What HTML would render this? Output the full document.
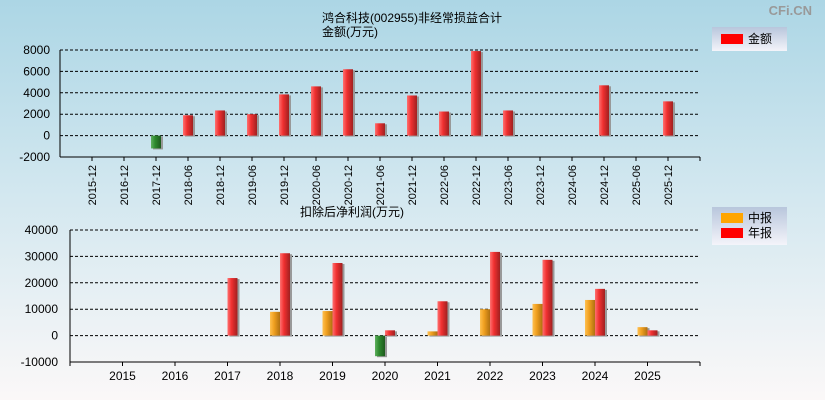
<!DOCTYPE html>
<html><head><meta charset="utf-8"><style>
html,body{margin:0;padding:0;background:#fff;}
body{width:825px;height:400px;overflow:hidden;font-family:"Liberation Sans","Noto Sans CJK SC",sans-serif;}
svg{display:block;}
svg text{font-family:"Liberation Sans","Noto Sans CJK SC",sans-serif;}
</style></head><body>
<svg id="c" width="825" height="400" xmlns="http://www.w3.org/2000/svg">
<defs>
<linearGradient id="bg" x1="0" y1="0" x2="0" y2="1"><stop offset="0" stop-color="#acd6e5"/><stop offset="0.5" stop-color="#d4e8f0"/><stop offset="1" stop-color="#fbf8f8"/></linearGradient>
<linearGradient id="gr" x1="0" x2="1"><stop offset="0" stop-color="#ff7070"/><stop offset="0.4" stop-color="#f03030"/><stop offset="1" stop-color="#a02020"/></linearGradient>
<linearGradient id="gg" x1="0" x2="1"><stop offset="0" stop-color="#5fb05f"/><stop offset="0.4" stop-color="#2e8a2e"/><stop offset="1" stop-color="#1d5a1d"/></linearGradient>
<linearGradient id="go" x1="0" x2="1"><stop offset="0" stop-color="#ffc050"/><stop offset="0.4" stop-color="#f0a020"/><stop offset="1" stop-color="#b07010"/></linearGradient>
<linearGradient id="lg" x1="0" y1="0" x2="0" y2="1"><stop offset="0" stop-color="#b8c6dc"/><stop offset="1" stop-color="#f4f4fa"/></linearGradient>
</defs>
<rect x="0" y="0" width="825" height="400" fill="url(#bg)"/>
<text x="812" y="15" font-size="13" fill="#999" text-anchor="end" font-weight="bold">CFi.CN</text>
<text x="412" y="22" font-size="12" text-anchor="middle">鸿合科技(002955)非经常损益合计</text>
<text x="350" y="36" font-size="12" text-anchor="middle">金额(万元)</text>
<g>
<rect x="712" y="27" width="75" height="24" fill="url(#lg)"/>
<rect x="721" y="34" width="22" height="10" fill="#f00"/>
<text x="748" y="43" font-size="12">金额</text></g>
<text x="352" y="216" font-size="12" text-anchor="middle">扣除后净利润(万元)</text>
<g>
<rect x="712" y="207" width="75" height="38" fill="url(#lg)"/>
<rect x="721" y="213" width="22" height="10" fill="#ffa500"/>
<text x="748" y="222" font-size="12">中报</text>
<rect x="721" y="228" width="22" height="10" fill="#f00"/>
<text x="748" y="237" font-size="12">年报</text></g>
<g id="g1"></g><g id="g2"></g>
</svg>
<script>
const cats1=["2015-12","2016-12","2017-12","2018-06","2018-12","2019-06","2019-12","2020-06","2020-12","2021-06","2021-12","2022-06","2022-12","2023-06","2023-12","2024-06","2024-12","2025-06","2025-12"];
const vals1=[null,null,-1200,1900,2350,2000,3850,4600,6200,1150,3750,2250,7900,2350,null,null,4700,null,3200];
const ticks1=[8000,6000,4000,2000,0,-2000];
const cats2=["2015","2016","2017","2018","2019","2020","2021","2022","2023","2024","2025"];
const mid2=[null,null,null,9000,9300,-7800,1600,10000,12000,13500,3200];
const ann2=[null,null,21800,31200,27500,2000,13000,31700,28700,17700,2000];
const ticks2=[40000,30000,20000,10000,0,-10000];
const NS="http://www.w3.org/2000/svg";
function mk(p,t,a){const e=document.createElementNS(NS,t);for(const k in a)e.setAttribute(k,a[k]);p.appendChild(e);return e;}
const g1=document.getElementById('g1');
const L1=60,R1=700,T1=50,B1=157;
const y1=v=>T1+(8000-v)/10000*(B1-T1);
const x1=i=>92+i*32;
ticks1.forEach(t=>{
 if(t!==-2000){const l=mk(g1,'line',{x1:L1,x2:R1,y1:y1(t),y2:y1(t),stroke:'#000','stroke-dasharray':'3,2','stroke-width':1});
 }
 const tx=mk(g1,'text',{x:L1-10,y:y1(t)+4,'font-size':12,'text-anchor':'end'});tx.textContent=t;
 
});
mk(g1,'line',{x1:L1,x2:L1,y1:T1,y2:B1,stroke:'#000'});
mk(g1,'line',{x1:L1,x2:R1,y1:B1,y2:B1,stroke:'#000'});
mk(g1,'line',{x1:R1,x2:R1,y1:B1,y2:B1+4,stroke:'#000'});
cats1.forEach((c,i)=>{
 const x=x1(i);
 mk(g1,'line',{x1:x,x2:x,y1:B1,y2:B1+4,stroke:'#000'});
 const tx=mk(g1,'text',{x:0,y:0,'font-size':11,'text-anchor':'end',transform:`translate(${x+4},${B1+8}) rotate(-90)`});tx.textContent=c;
 
 const v=vals1[i];if(v==null)return;
 const ya=y1(Math.max(v,0)),yb=y1(Math.min(v,0));
 mk(g1,'rect',{x:x-3,y:ya+1,width:10,height:yb-ya,fill:'#999'});
 const r=mk(g1,'rect',{x:x-5,y:ya,width:10,height:yb-ya,fill:v<0?'url(#gg)':'url(#gr)'});
 
});
const g2=document.getElementById('g2');
const L2=70,R2=700,T2=230,B2=362;
const y2=v=>T2+(40000-v)/50000*(B2-T2);
const x2=i=>L2+52.5*(i+1);
ticks2.forEach(t=>{
 if(t!==-10000){const l=mk(g2,'line',{x1:L2,x2:R2,y1:y2(t),y2:y2(t),stroke:'#000','stroke-dasharray':'3,2'});
 }
 const tx=mk(g2,'text',{x:L2-12,y:y2(t)+4,'font-size':12,'text-anchor':'end'});tx.textContent=t;
 
});
mk(g2,'line',{x1:L2,x2:L2,y1:T2,y2:B2+4,stroke:'#000'});
mk(g2,'line',{x1:L2,x2:R2,y1:B2,y2:B2,stroke:'#000'});
mk(g2,'line',{x1:R2,x2:R2,y1:B2,y2:B2+4,stroke:'#000'});
cats2.forEach((c,i)=>{
 const x=x2(i);
 mk(g2,'line',{x1:x,x2:x,y1:B2,y2:B2+4,stroke:'#000'});
 const tx=mk(g2,'text',{x:x,y:B2+18,'font-size':12,'text-anchor':'middle'});tx.textContent=c;
 
 [[mid2[i],x-10,'url(#go)','mid-'],[ann2[i],x,'url(#gr)','annual-']].forEach(([v,bx,f,n])=>{
  if(v==null)return;
  const ya=y2(Math.max(v,0)),yb=y2(Math.min(v,0));
  mk(g2,'rect',{x:bx+2,y:ya+1,width:10,height:yb-ya,fill:'#999'});
  const r=mk(g2,'rect',{x:bx,y:ya,width:10,height:yb-ya,fill:v<0?'url(#gg)':f});
  
 });
});
</script>
</body></html>
